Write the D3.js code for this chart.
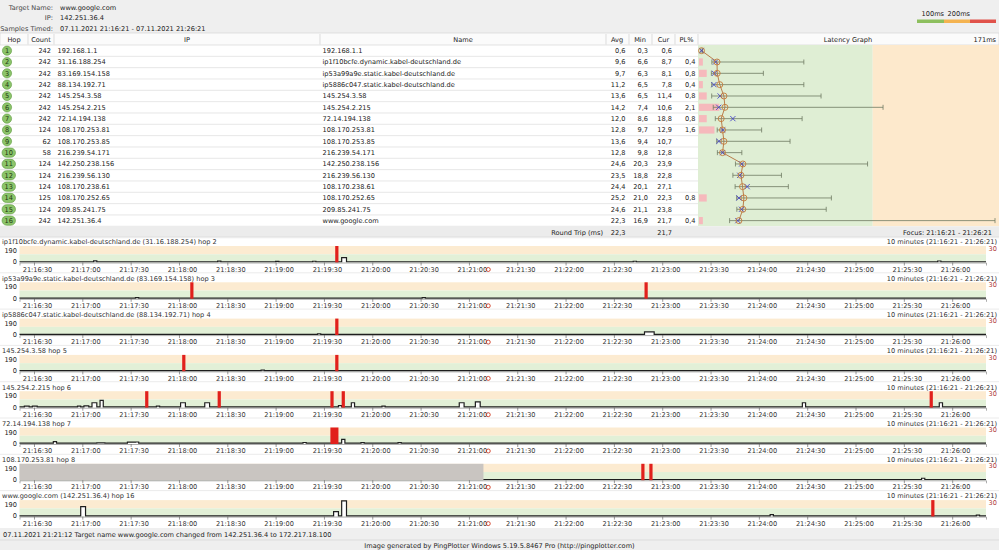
<!DOCTYPE html>
<html>
<head>
<meta charset="utf-8">
<script src="https://cdn.jsdelivr.net/npm/d3@7"></script>
<style>
  body { margin: 0; background: #fff; }
  text { font-family: "DejaVu Sans", Verdana, sans-serif; font-size: 6.6px; fill: #222; }
</style>
</head>
<body>
<div id="chart"></div>
<script>
// ---- table data ----
var hops = [1, 2, 3, 4, 5, 6, 7, 8, 9, 10, 11, 12, 13, 14, 15, 16];
var counts = [242, 242, 242, 242, 242, 242, 242, 124, 62, 58, 124, 124, 124, 125, 124, 242];
var ips = ["192.168.1.1", "31.16.188.254", "83.169.154.158", "88.134.192.71", "145.254.3.58",
  "145.254.2.215", "72.14.194.138", "108.170.253.81", "108.170.253.85", "216.239.54.171",
  "142.250.238.156", "216.239.56.130", "108.170.238.61", "108.170.252.65", "209.85.241.75", "142.251.36.4"];
var names = ["192.168.1.1", "ip1f10bcfe.dynamic.kabel-deutschland.de", "ip53a99a9e.static.kabel-deutschland.de",
  "ip5886c047.static.kabel-deutschland.de", "145.254.3.58", "145.254.2.215", "72.14.194.138",
  "108.170.253.81", "108.170.253.85", "216.239.54.171", "142.250.238.156", "216.239.56.130",
  "108.170.238.61", "108.170.252.65", "209.85.241.75", "www.google.com"];
var avgs = [0.6, 9.6, 9.7, 11.2, 13.6, 14.2, 12.0, 12.8, 13.6, 12.8, 24.6, 23.5, 24.4, 25.2, 24.6, 22.3];
var mins = [0.3, 6.6, 6.3, 6.5, 6.5, 7.4, 8.6, 9.7, 9.4, 9.8, 20.3, 18.8, 20.1, 21.0, 21.1, 16.9];
var curs = [0.6, 8.7, 8.1, 7.8, 11.4, 10.6, 18.8, 12.9, 10.7, 12.8, 23.9, 22.8, 27.1, 22.3, 23.8, 21.7];
var maxs = [1.2, 60, 36.5, 60, 70, 106, 59, 35.5, 52, 24, 97, 47, 51, 76, 73, 171];
var pls = [null, 0.4, 0.8, 0.4, 0.8, 2.1, 0.8, 1.6, null, null, null, null, null, 0.8, null, 0.4];
var roundTrip = { avg: 22.3, cur: 21.7 };

// ---- time graph data (seconds after 21:16:21, ms) ----
var panelTitles = [
  "ip1f10bcfe.dynamic.kabel-deutschland.de (31.16.188.254) hop 2",
  "ip53a99a9e.static.kabel-deutschland.de (83.169.154.158) hop 3",
  "ip5886c047.static.kabel-deutschland.de (88.134.192.71) hop 4",
  "145.254.3.58 hop 5",
  "145.254.2.215 hop 6",
  "72.14.194.138 hop 7",
  "108.170.253.81 hop 8",
  "www.google.com (142.251.36.4) hop 16"
];
// [start second, number of samples lost]
var panelLoss = [
  [[196, 1]],
  [[106, 1], [388, 1]],
  [[196.5, 1]],
  [[101, 1], [196.5, 1]],
  [[78, 1], [123, 1], [193.5, 1], [200.5, 1], [565, 1]],
  [[193.5, 2]],
  [[386, 1], [391, 1]],
  [[566, 1]]
];
var panelLines = [
  [[0, 9], [46, 20], [48.5, 9], [123, 16], [125.5, 9], [159, 14], [161.5, 9], [182, 15], [184.5, 9],
   [200.5, 60], [203, 9], [381, 15], [383.5, 9], [570, 18], [572.5, 9], [600, 9]],
  [[0, 9], [72, 14], [74.5, 9], [250, 14], [252.5, 9], [600, 9]],
  [[0, 10], [185, 16], [187.5, 10], [388, 40], [394, 10], [600, 10]],
  [[0, 10], [150, 15], [152.5, 10], [600, 10]],
  [[0, 10], [3.5, 20], [6, 10], [8.5, 18], [11, 10], [36, 20], [38.5, 10], [40.5, 22], [43, 10],
   [45.5, 60], [48, 10], [50, 90], [52.5, 10], [85, 18], [87.5, 10], [100.5, 60], [103, 10],
   [115.5, 60], [118, 10], [198, 25], [200.5, 10], [206, 60], [208.5, 10], [225, 18], [227.5, 10],
   [273.5, 60], [276, 10], [283.5, 70], [286, 10], [486, 60], [488.5, 10], [571, 60], [573.5, 10], [600, 10]],
  [[0, 10], [21, 30], [23.5, 10], [48, 14], [53, 10], [67, 22], [72, 24], [74.5, 10], [176, 18],
   [178.5, 10], [200, 55], [202.5, 10], [212, 16], [214.5, 10], [235, 16], [237.5, 10], [600, 10]],
  [[288, 10], [560, 25], [562.5, 10], [600, 10]],
  [[0, 10], [38.5, 120], [41, 10], [195.5, 60], [198, 10], [200.5, 190], [203, 10], [466, 25],
   [468.5, 10], [594, 18], [596.5, 10], [600, 10]]
];
var noDataUntil = [0, 0, 0, 0, 0, 0, 288, 0];
var tickLabels = ["21:16:30", "21:17:00", "21:17:30", "21:18:00", "21:18:30", "21:19:00", "21:19:30",
  "21:20:00", "21:20:30", "21:21:00", "21:21:30", "21:22:00", "21:22:30", "21:23:00", "21:23:30",
  "21:24:00", "21:24:30", "21:25:00", "21:25:30", "21:26:00"];
var changeEvent = 291;

var W = 999, H = 550;
var num = function(v) { return d3.format(".1f")(v).replace(".", ","); };

var svg = d3.select("#chart").append("svg")
  .attr("width", W)
  .attr("height", H);

// header block
svg.append("rect").attr("width", W).attr("height", 33).attr("fill", "#efefef");
var headerLabels = ["Target Name:", "IP:", "Samples Timed:"];
var headerValues = ["www.google.com", "142.251.36.4", "07.11.2021 21:16:21 - 07.11.2021 21:26:21"];
headerLabels.forEach(function(l, i) {
  svg.append("text").attr("x", 53).attr("y", 9.5 + i * 10.5).attr("text-anchor", "end").style("fill", "#444").text(l);
  svg.append("text").attr("x", 60).attr("y", 9.5 + i * 10.5).text(headerValues[i]);
});

// colour legend top right
var legend = [{ c: "#8dbf5e", a: 917, b: 944 }, { c: "#f4b350", a: 944, b: 970 }, { c: "#e0524a", a: 970, b: 996 }];
legend.forEach(function(d) {
  svg.append("rect").attr("x", d.a).attr("y", 19.5).attr("width", d.b - d.a).attr("height", 3.5).attr("fill", d.c);
});
svg.append("text").attr("x", 944).attr("y", 16).attr("text-anchor", "end").text("100ms");
svg.append("text").attr("x", 970).attr("y", 16).attr("text-anchor", "end").text("200ms");

// table header
var rowTop = 45, rowH = 11.33;
svg.append("rect").attr("y", 33).attr("width", W).attr("height", 12).attr("fill", "#fbfbfb")
  .attr("stroke", "#d0d0d0").attr("stroke-width", 0.6);
var colSep = [28, 54, 320, 606, 629, 652, 675, 698];
colSep.forEach(function(x) {
  svg.append("line").attr("x1", x).attr("x2", x).attr("y1", 34).attr("y2", 44.5)
    .attr("stroke", "#d0d0d0").attr("stroke-width", 0.7);
});
var heads = [["Hop", 14], ["Count", 41], ["IP", 187], ["Name", 463], ["Avg", 617], ["Min", 640],
  ["Cur", 663.5], ["PL%", 686.5], ["Latency Graph", 848]];
heads.forEach(function(h) {
  svg.append("text").attr("x", h[1]).attr("y", 41.6).attr("text-anchor", "middle").text(h[0]);
});
svg.append("text").attr("x", 996).attr("y", 41.6).attr("text-anchor", "end").text("171ms");

var rowY = function(i) { return rowTop + (i + 0.5) * rowH; };

// latency graph background
var lx = d3.scaleLinear().domain([0, 171]).range([700.5, 995]);
var plx = d3.scaleLinear().domain([0, 30]).range([0, 290]);
var tableBottom = rowTop + hops.length * rowH;
svg.append("rect").attr("x", 698).attr("y", rowTop).attr("width", lx(100) - 698)
  .attr("height", tableBottom - rowTop).attr("fill", "#dfeed4");
svg.append("rect").attr("x", lx(100)).attr("y", rowTop).attr("width", 999 - lx(100))
  .attr("height", tableBottom - rowTop).attr("fill", "#fde9cc");

// rows
hops.forEach(function(h, i) {
  var y = rowY(i);
  svg.append("line").attr("x1", 0).attr("x2", 698).attr("y1", rowTop + (i + 1) * rowH).attr("y2", rowTop + (i + 1) * rowH)
    .attr("stroke", "#dcdcdc").attr("stroke-width", 0.7);
  if (h < 10) {
    svg.append("circle").attr("cx", 7).attr("cy", y).attr("r", 4.6)
      .attr("fill", "#8cc46a").attr("stroke", "#5e9a40").attr("stroke-width", 0.6);
  } else {
    svg.append("rect").attr("x", 2).attr("y", y - 4.6).attr("width", 13.5).attr("height", 9.2).attr("rx", 4.6)
      .attr("fill", "#8cc46a").attr("stroke", "#5e9a40").attr("stroke-width", 0.6);
  }
  svg.append("text").attr("x", h < 10 ? 7 : 8.7).attr("y", y + 2.3).attr("text-anchor", "middle").style("fill", "#1f3a12").text(h);
  svg.append("text").attr("x", 51).attr("y", y + 2.3).attr("text-anchor", "end").text(counts[i]);
  svg.append("text").attr("x", 57.5).attr("y", y + 2.3).text(ips[i]);
  svg.append("text").attr("x", 322.5).attr("y", y + 2.3).text(names[i]);
  svg.append("text").attr("x", 625.5).attr("y", y + 2.3).attr("text-anchor", "end").text(num(avgs[i]));
  svg.append("text").attr("x", 648).attr("y", y + 2.3).attr("text-anchor", "end").text(num(mins[i]));
  svg.append("text").attr("x", 672).attr("y", y + 2.3).attr("text-anchor", "end").text(num(curs[i]));
  if (pls[i] != null) {
    svg.append("text").attr("x", 695.5).attr("y", y + 2.3).attr("text-anchor", "end").text(num(pls[i]));
    svg.append("rect").attr("x", 699).attr("y", y - 3.6).attr("width", plx(pls[i])).attr("height", 7.2).attr("fill", "#f6b9bc");
  }
});

// min-max whiskers
hops.forEach(function(h, i) {
  var y = rowY(i);
  var g = svg.append("g").attr("stroke", "#6f7a62").attr("stroke-width", 0.8);
  g.append("line").attr("x1", lx(mins[i])).attr("x2", lx(maxs[i])).attr("y1", y).attr("y2", y);
  g.append("line").attr("x1", lx(mins[i])).attr("x2", lx(mins[i])).attr("y1", y - 2.5).attr("y2", y + 2.5);
  g.append("line").attr("x1", lx(maxs[i])).attr("x2", lx(maxs[i])).attr("y1", y - 2.5).attr("y2", y + 2.5);
});

// avg line and markers
var avgLine = d3.line().x(function(d, i) { return lx(d); }).y(function(d, i) { return rowY(i); });
svg.append("path").datum(avgs).attr("d", avgLine).attr("fill", "none").attr("stroke", "#b4703c").attr("stroke-width", 0.9);
avgs.forEach(function(v, i) {
  var cx = lx(curs[i]), cy = rowY(i);
  svg.append("path").attr("d", "M" + (cx - 2.6) + "," + (cy - 2.6) + "L" + (cx + 2.6) + "," + (cy + 2.6) +
    "M" + (cx - 2.6) + "," + (cy + 2.6) + "L" + (cx + 2.6) + "," + (cy - 2.6))
    .attr("stroke", "#4444c4").attr("stroke-width", 0.9);
  svg.append("circle").attr("cx", lx(v)).attr("cy", cy).attr("r", 3).attr("fill", "none")
    .attr("stroke", "#c47a3a").attr("stroke-width", 0.9);
});

// round trip row
svg.append("rect").attr("y", tableBottom).attr("width", W).attr("height", 12).attr("fill", "#ececec");
svg.append("text").attr("x", 603).attr("y", tableBottom + 8.3).attr("text-anchor", "end").text("Round Trip (ms)");
svg.append("text").attr("x", 625.5).attr("y", tableBottom + 8.3).attr("text-anchor", "end").text(num(roundTrip.avg));
svg.append("text").attr("x", 672).attr("y", tableBottom + 8.3).attr("text-anchor", "end").text(num(roundTrip.cur));
svg.append("text").attr("x", 992).attr("y", tableBottom + 8.3).attr("text-anchor", "end").text("Focus: 21:16:21 - 21:26:21");

// time graphs
var t0 = new Date(2021, 10, 7, 21, 16, 21);
var t1 = d3.timeSecond.offset(t0, 600);
var tx = d3.scaleTime().domain([t0, t1]).range([19.5, 986]);
var at = function(s) { return tx(d3.timeSecond.offset(t0, s)); };
var parseClock = d3.timeParse("%H:%M:%S");
var tickTimes = tickLabels.map(function(s) {
  var p = parseClock(s);
  return new Date(2021, 10, 7, p.getHours(), p.getMinutes(), p.getSeconds());
});
var sample = 2.48;

panelTitles.forEach(function(title, p) {
  var T = 242 + p * 36.3;
  var y = d3.scaleLinear().domain([0, 200]).range([T + 20.5, T + 4]);
  var g = svg.append("g");

  g.append("line").attr("x1", 0).attr("x2", W).attr("y1", T - 5.5).attr("y2", T - 5.5)
    .attr("stroke", "#e2e2e2").attr("stroke-width", 0.7);
  g.append("text").attr("x", 2).attr("y", T + 2.3).style("fill", "#333").text(title);
  g.append("text").attr("x", 997).attr("y", T + 2.3).attr("text-anchor", "end").style("fill", "#333")
    .text("10 minutes (21:16:21 - 21:26:21)");
  g.append("text").attr("x", 997).attr("y", T + 8.6).attr("text-anchor", "end").style("fill", "#b03838").text("30");

  g.append("rect").attr("x", tx.range()[0]).attr("y", y(200)).attr("width", tx.range()[1] - tx.range()[0])
    .attr("height", y(100) - y(200)).attr("fill", "#fcebd1");
  g.append("rect").attr("x", tx.range()[0]).attr("y", y(100)).attr("width", tx.range()[1] - tx.range()[0])
    .attr("height", y(0) - y(100)).attr("fill", "#e2f0d7");
  if (noDataUntil[p] > 0) {
    g.append("rect").attr("x", tx.range()[0]).attr("y", y(200)).attr("width", at(noDataUntil[p]) - tx.range()[0])
      .attr("height", y(0) - y(200)).attr("fill", "#c9c5c1");
  }

  g.append("text").attr("x", 17).attr("y", T + 11).attr("text-anchor", "end").text("190");
  g.append("text").attr("x", 17).attr("y", T + 22.3).attr("text-anchor", "end").text("0");

  var pts = panelLines[p];
  var area = d3.area().curve(d3.curveStepAfter)
    .x(function(d) { return at(d[0]); }).y0(y(0)).y1(function(d) { return y(d[1]); });
  var line = d3.line().curve(d3.curveStepAfter)
    .x(function(d) { return at(d[0]); }).y(function(d) { return y(d[1]); });
  g.append("path").datum(pts).attr("d", area).attr("fill", "#fff");
  g.append("path").datum(pts).attr("d", line).attr("fill", "none").attr("stroke", "#1e1e1e").attr("stroke-width", 1.2);

  panelLoss[p].forEach(function(d) {
    g.append("rect").attr("x", at(d[0])).attr("y", y(200)).attr("width", at(d[0] + sample * d[1]) - at(d[0]))
      .attr("height", y(0) - y(200)).attr("fill", "#e1201c");
  });

  var axis = d3.axisBottom(tx).tickValues(tickTimes).tickFormat(d3.timeFormat("%H:%M:%S"))
    .tickSize(3).tickSizeOuter(3).tickPadding(1.5);
  var ag = g.append("g").attr("transform", "translate(0," + y(0) + ")").call(axis);
  ag.select(".domain").attr("stroke", "#777").attr("stroke-width", 0.6);
  ag.selectAll(".tick line").attr("stroke", "#555").attr("stroke-width", 0.6);
  ag.selectAll(".tick text").attr("dx", 3).style("font-size", "6.6px").style("fill", "#333")
    .style("font-family", "DejaVu Sans, Verdana, sans-serif");

  g.append("circle").attr("cx", at(changeEvent)).attr("cy", y(0) + 7).attr("r", 2)
    .attr("fill", "none").attr("stroke", "#d03a20").attr("stroke-width", 0.9);
});

// footer
svg.append("rect").attr("y", 528).attr("width", W).attr("height", 22).attr("fill", "#efefef");
svg.append("line").attr("x1", 0).attr("x2", W).attr("y1", 540).attr("y2", 540).attr("stroke", "#d6d6d6").attr("stroke-width", 0.7);
svg.append("text").attr("x", 3).attr("y", 537.3)
  .text("07.11.2021 21:21:12 Target name www.google.com changed from 142.251.36.4 to 172.217.18.100");
svg.append("text").attr("x", 499.5).attr("y", 547.5).attr("text-anchor", "middle")
  .text("Image generated by PingPlotter Windows 5.19.5.8467 Pro (http://pingplotter.com)");
</script>
</body>
</html>
